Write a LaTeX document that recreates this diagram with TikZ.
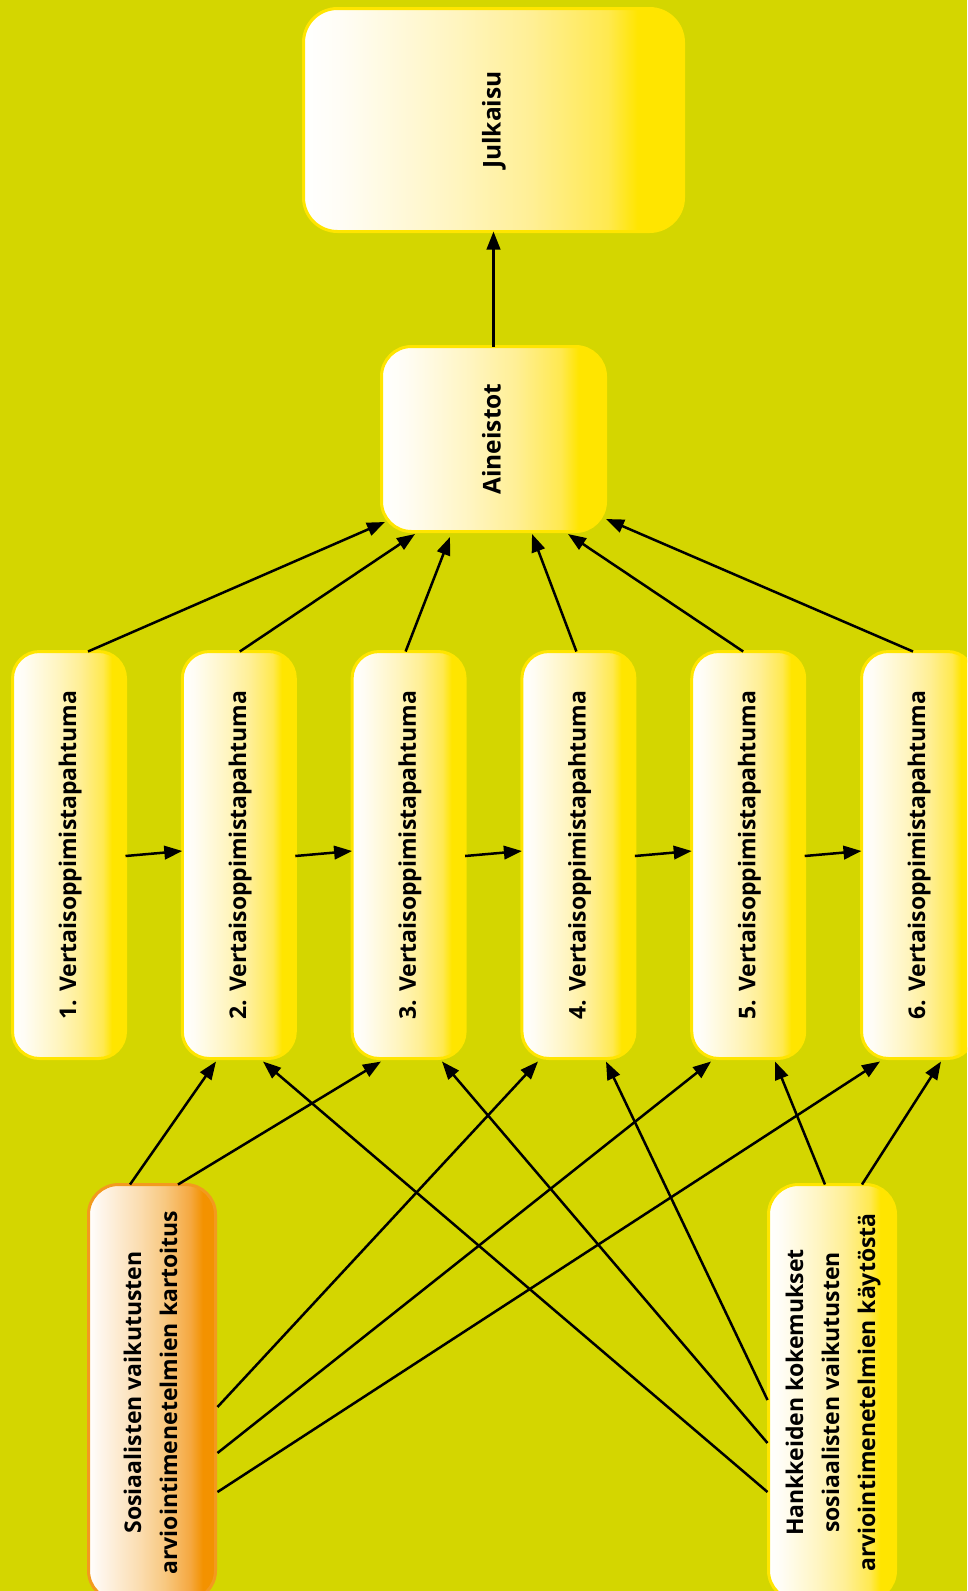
\documentclass[tikz,border=0pt]{standalone}
\usepackage{fontspec}
\setmainfont{Open Sans}
\usepackage{graphicx}
\usetikzlibrary{arrows.meta}
\definecolor{bg}{RGB}{212,214,0}
\definecolor{yel}{RGB}{255,229,0}
\definecolor{ya}{RGB}{255,253,245}
\definecolor{yb}{RGB}{255,245,192}
\definecolor{yc}{RGB}{255,239,149}
\definecolor{yd}{RGB}{255,233,80}
\definecolor{org}{RGB}{243,146,0}
\definecolor{orgline}{RGB}{243,154,30}
\definecolor{oa}{RGB}{254,245,234}
\definecolor{ob}{RGB}{251,221,176}
\definecolor{oc}{RGB}{248,200,128}
\definecolor{od}{RGB}{245,168,64}
\pgfdeclarehorizontalshading{yshade}{100bp}{color(0bp)=(white); color(25bp)=(white); color(30bp)=(ya); color(45bp)=(yb); color(55bp)=(yc); color(65bp)=(yd); color(69bp)=(yel); color(100bp)=(yel)}
\pgfdeclarehorizontalshading{oshade}{100bp}{color(0bp)=(white); color(25bp)=(white); color(30bp)=(oa); color(45bp)=(ob); color(55bp)=(oc); color(65bp)=(od); color(70bp)=(org); color(100bp)=(org)}
\tikzset{
  ybox/.style={draw=yel, line width=3pt, shade, shading=yshade, inner sep=0pt, outer sep=0pt,
    font=\bfseries\fontsize{23}{36}\selectfont},
  bigbox/.style={ybox, font=\bfseries\fontsize{24.5}{36}\selectfont},
  evbox/.style={ybox, rounded corners=27pt, minimum width=113pt, minimum height=407pt},
  obox/.style={draw=orgline, line width=3pt, shade, shading=oshade, inner sep=0pt, outer sep=0pt,
    rounded corners=30pt, minimum width=127pt, minimum height=416pt,
    font=\bfseries\fontsize{23}{36}\selectfont},
  arr/.style={line width=2.5pt, -{Triangle[length=18pt,width=13.5pt]}}
}
\newcommand{\vtext}[1]{\rotatebox{90}{\begin{tabular}{@{}c@{}}#1\end{tabular}}}
\begin{document}
\begin{tikzpicture}[x=1pt,y=-1pt]
\useasboundingbox (0,0) rectangle (967,1591);
\clip (0,0) rectangle (967,1591);
\fill[bg] (0,0) rectangle (967,1591);

\node[bigbox, rounded corners=34pt, minimum width=380pt, minimum height=223pt] (jul) at (493.5,120) {\vtext{Julkaisu}};
\node[bigbox, rounded corners=30pt, minimum width=224pt, minimum height=185pt] (ain) at (493.5,439) {\vtext{Aineistot}};

\node[evbox] (b1) at (69,855) {\vtext{1. Vertaisoppimistapahtuma}};
\node[evbox] (b2) at (238.8,855) {\vtext{2. Vertaisoppimistapahtuma}};
\node[evbox] (b3) at (408.6,855) {\vtext{3. Vertaisoppimistapahtuma}};
\node[evbox] (b4) at (578.4,855) {\vtext{4. Vertaisoppimistapahtuma}};
\node[evbox] (b5) at (748.2,855) {\vtext{5. Vertaisoppimistapahtuma}};
\node[evbox] (b6) at (918,855) {\vtext{6. Vertaisoppimistapahtuma}};

\node[obox] (sos) at (152,1392.5) {\vtext{Sosiaalisten vaikutusten\\arviointimenetelmien kartoitus}};
\node[ybox, rounded corners=30pt, minimum width=127pt, minimum height=416pt] (hank) at (832,1392.5) {\vtext{Hankkeiden kokemukset\\sosiaalisten vaikutusten\\arviointimenetelmien käytöstä}};

% to Julkaisu
\draw[arr] (ain.north) -- (jul.south);

% events to Aineistot
\draw[arr] ([xshift=19pt]b1.north) -- ([shift={(-108.5,-9.5)}]ain.south);
\draw[arr] ([xshift=1pt]b2.north) -- ([shift={(-78.5,2.5)}]ain.south);
\draw[arr] ([xshift=-3pt]b3.north) -- ([shift={(-43.5,5.5)}]ain.south);
\draw[arr] ([xshift=-2pt]b4.north) -- ([shift={(38.5,2.5)}]ain.south);
\draw[arr] ([xshift=-5pt]b5.north) -- ([shift={(74.5,2.5)}]ain.south);
\draw[arr] ([xshift=-5pt]b6.north) -- ([shift={(112.5,-12.5)}]ain.south);

% event chain
\draw[arr] ([yshift=-1pt]b1.east) -- ([yshift=4pt]b2.west);
\draw[arr] ([yshift=-1pt]b2.east) -- ([yshift=4pt]b3.west);
\draw[arr] ([yshift=-1pt]b3.east) -- ([yshift=4pt]b4.west);
\draw[arr] ([yshift=-1pt]b4.east) -- ([yshift=4pt]b5.west);
\draw[arr] ([yshift=-1pt]b5.east) -- ([yshift=4pt]b6.west);

% Sosiaalisten ... kartoitus
\draw[arr] ([xshift=-22pt]sos.north) -- ([shift={(-22.8,3)}]b2.south);
\draw[arr] ([xshift=26pt]sos.north) -- ([shift={(-27.6,3)}]b3.south);
\draw[arr] ([shift={(2,14.5)}]sos.east) -- ([shift={(-40.4,3)}]b4.south);
\draw[arr] ([shift={(2,60.5)}]sos.east) -- ([shift={(-37.2,3)}]b5.south);
\draw[arr] ([shift={(2,99.5)}]sos.east) -- ([shift={(-38,3)}]b6.south);

% Hankkeiden kokemukset
\draw[arr] ([xshift=-7pt]hank.north) -- ([shift={(26.8,3)}]b5.south);
\draw[arr] ([xshift=30pt]hank.north) -- ([shift={(23,3)}]b6.south);
\draw[arr] ([shift={(-1,7.5)}]hank.west) -- ([shift={(27.6,3)}]b4.south);
\draw[arr] ([shift={(-1,50.5)}]hank.west) -- ([shift={(33.4,3)}]b3.south);
\draw[arr] ([shift={(-1,99.5)}]hank.west) -- ([shift={(24.2,3)}]b2.south);
\end{tikzpicture}
\end{document}
